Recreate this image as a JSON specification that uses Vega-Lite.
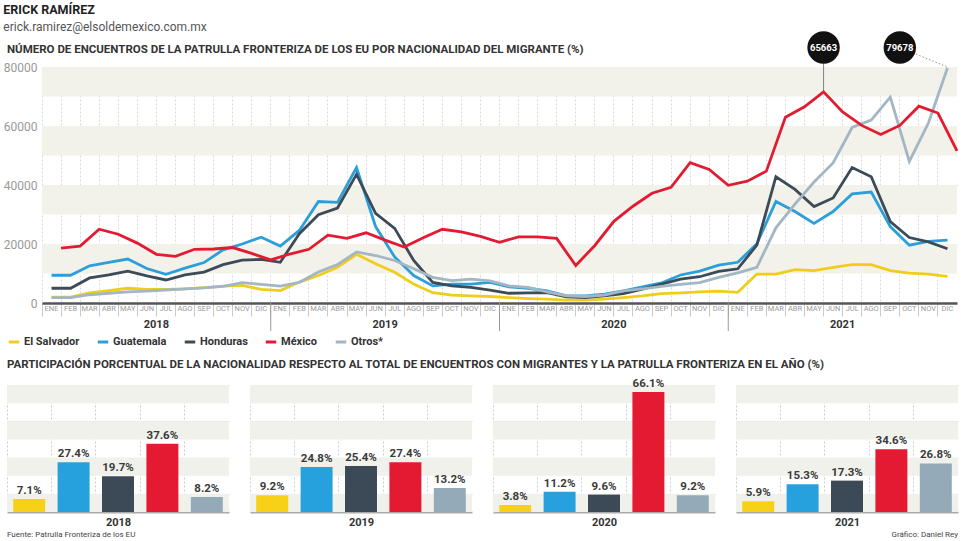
{
  "$schema": "https://vega.github.io/schema/vega-lite/v6.json",
  "background": "white",
  "padding": {"left": 3, "top": 4, "right": 2, "bottom": 1},
  "config": {"view": {"stroke": null}, "font": "Roboto", "title": {"color": "#333", "fontWeight": "bold"}},
  "title": {"text": "ERICK RAMÍREZ", "subtitle": "erick.ramirez@elsoldemexico.com.mx", "anchor": "start", "fontSize": 12.5, "color": "#222", "subtitleFontSize": 12, "subtitleColor": "#555", "subtitlePadding": 5, "offset": -1.5},
  "datasets": {
    "lineas": [
      {"mes":"2018-01","pais":"El Salvador","n":2000},{"mes":"2018-02","pais":"El Salvador","n":2000},{"mes":"2018-03","pais":"El Salvador","n":3400},{"mes":"2018-04","pais":"El Salvador","n":4200},{"mes":"2018-05","pais":"El Salvador","n":5000},{"mes":"2018-06","pais":"El Salvador","n":4600},{"mes":"2018-07","pais":"El Salvador","n":4600},{"mes":"2018-08","pais":"El Salvador","n":4800},{"mes":"2018-09","pais":"El Salvador","n":5200},{"mes":"2018-10","pais":"El Salvador","n":5700},{"mes":"2018-11","pais":"El Salvador","n":6000},{"mes":"2018-12","pais":"El Salvador","n":4600},
      {"mes":"2019-01","pais":"El Salvador","n":4200},{"mes":"2019-02","pais":"El Salvador","n":7100},{"mes":"2019-03","pais":"El Salvador","n":9300},{"mes":"2019-04","pais":"El Salvador","n":12100},{"mes":"2019-05","pais":"El Salvador","n":16500},{"mes":"2019-06","pais":"El Salvador","n":13300},{"mes":"2019-07","pais":"El Salvador","n":10400},{"mes":"2019-08","pais":"El Salvador","n":6400},{"mes":"2019-09","pais":"El Salvador","n":3500},{"mes":"2019-10","pais":"El Salvador","n":2700},{"mes":"2019-11","pais":"El Salvador","n":2400},{"mes":"2019-12","pais":"El Salvador","n":2200},
      {"mes":"2020-01","pais":"El Salvador","n":1800},{"mes":"2020-02","pais":"El Salvador","n":1500},{"mes":"2020-03","pais":"El Salvador","n":1300},{"mes":"2020-04","pais":"El Salvador","n":1000},{"mes":"2020-05","pais":"El Salvador","n":1000},{"mes":"2020-06","pais":"El Salvador","n":1300},{"mes":"2020-07","pais":"El Salvador","n":1800},{"mes":"2020-08","pais":"El Salvador","n":2400},{"mes":"2020-09","pais":"El Salvador","n":3200},{"mes":"2020-10","pais":"El Salvador","n":3400},{"mes":"2020-11","pais":"El Salvador","n":3800},{"mes":"2020-12","pais":"El Salvador","n":4000},
      {"mes":"2021-01","pais":"El Salvador","n":3600},{"mes":"2021-02","pais":"El Salvador","n":9800},{"mes":"2021-03","pais":"El Salvador","n":9800},{"mes":"2021-04","pais":"El Salvador","n":11300},{"mes":"2021-05","pais":"El Salvador","n":11000},{"mes":"2021-06","pais":"El Salvador","n":12100},{"mes":"2021-07","pais":"El Salvador","n":13000},{"mes":"2021-08","pais":"El Salvador","n":13000},{"mes":"2021-09","pais":"El Salvador","n":11000},{"mes":"2021-10","pais":"El Salvador","n":10100},{"mes":"2021-11","pais":"El Salvador","n":9800},{"mes":"2021-12","pais":"El Salvador","n":9000},

      {"mes":"2018-01","pais":"Guatemala","n":9400},{"mes":"2018-02","pais":"Guatemala","n":9400},{"mes":"2018-03","pais":"Guatemala","n":12600},{"mes":"2018-04","pais":"Guatemala","n":13800},{"mes":"2018-05","pais":"Guatemala","n":14900},{"mes":"2018-06","pais":"Guatemala","n":11700},{"mes":"2018-07","pais":"Guatemala","n":9700},{"mes":"2018-08","pais":"Guatemala","n":11800},{"mes":"2018-09","pais":"Guatemala","n":13700},{"mes":"2018-10","pais":"Guatemala","n":18000},{"mes":"2018-11","pais":"Guatemala","n":20000},{"mes":"2018-12","pais":"Guatemala","n":22300},
      {"mes":"2019-01","pais":"Guatemala","n":19300},{"mes":"2019-02","pais":"Guatemala","n":24600},{"mes":"2019-03","pais":"Guatemala","n":34400},{"mes":"2019-04","pais":"Guatemala","n":34100},{"mes":"2019-05","pais":"Guatemala","n":45900},{"mes":"2019-06","pais":"Guatemala","n":25900},{"mes":"2019-07","pais":"Guatemala","n":15600},{"mes":"2019-08","pais":"Guatemala","n":9300},{"mes":"2019-09","pais":"Guatemala","n":5800},{"mes":"2019-10","pais":"Guatemala","n":6400},{"mes":"2019-11","pais":"Guatemala","n":6400},{"mes":"2019-12","pais":"Guatemala","n":7000},
      {"mes":"2020-01","pais":"Guatemala","n":5500},{"mes":"2020-02","pais":"Guatemala","n":5000},{"mes":"2020-03","pais":"Guatemala","n":4100},{"mes":"2020-04","pais":"Guatemala","n":2400},{"mes":"2020-05","pais":"Guatemala","n":2400},{"mes":"2020-06","pais":"Guatemala","n":3000},{"mes":"2020-07","pais":"Guatemala","n":4100},{"mes":"2020-08","pais":"Guatemala","n":5500},{"mes":"2020-09","pais":"Guatemala","n":6800},{"mes":"2020-10","pais":"Guatemala","n":9500},{"mes":"2020-11","pais":"Guatemala","n":10800},{"mes":"2020-12","pais":"Guatemala","n":12800},
      {"mes":"2021-01","pais":"Guatemala","n":13800},{"mes":"2021-02","pais":"Guatemala","n":20100},{"mes":"2021-03","pais":"Guatemala","n":34400},{"mes":"2021-04","pais":"Guatemala","n":31000},{"mes":"2021-05","pais":"Guatemala","n":27000},{"mes":"2021-06","pais":"Guatemala","n":31000},{"mes":"2021-07","pais":"Guatemala","n":37000},{"mes":"2021-08","pais":"Guatemala","n":37600},{"mes":"2021-09","pais":"Guatemala","n":25900},{"mes":"2021-10","pais":"Guatemala","n":19600},{"mes":"2021-11","pais":"Guatemala","n":20900},{"mes":"2021-12","pais":"Guatemala","n":21300},

      {"mes":"2018-01","pais":"Honduras","n":5000},{"mes":"2018-02","pais":"Honduras","n":5000},{"mes":"2018-03","pais":"Honduras","n":8500},{"mes":"2018-04","pais":"Honduras","n":9500},{"mes":"2018-05","pais":"Honduras","n":10800},{"mes":"2018-06","pais":"Honduras","n":9200},{"mes":"2018-07","pais":"Honduras","n":7800},{"mes":"2018-08","pais":"Honduras","n":9500},{"mes":"2018-09","pais":"Honduras","n":10500},{"mes":"2018-10","pais":"Honduras","n":13000},{"mes":"2018-11","pais":"Honduras","n":14500},{"mes":"2018-12","pais":"Honduras","n":14800},
      {"mes":"2019-01","pais":"Honduras","n":13800},{"mes":"2019-02","pais":"Honduras","n":23500},{"mes":"2019-03","pais":"Honduras","n":29900},{"mes":"2019-04","pais":"Honduras","n":32200},{"mes":"2019-05","pais":"Honduras","n":43600},{"mes":"2019-06","pais":"Honduras","n":30400},{"mes":"2019-07","pais":"Honduras","n":25300},{"mes":"2019-08","pais":"Honduras","n":14400},{"mes":"2019-09","pais":"Honduras","n":7000},{"mes":"2019-10","pais":"Honduras","n":5800},{"mes":"2019-11","pais":"Honduras","n":5300},{"mes":"2019-12","pais":"Honduras","n":4400},
      {"mes":"2020-01","pais":"Honduras","n":3300},{"mes":"2020-02","pais":"Honduras","n":3400},{"mes":"2020-03","pais":"Honduras","n":3500},{"mes":"2020-04","pais":"Honduras","n":2100},{"mes":"2020-05","pais":"Honduras","n":1800},{"mes":"2020-06","pais":"Honduras","n":2400},{"mes":"2020-07","pais":"Honduras","n":3200},{"mes":"2020-08","pais":"Honduras","n":4700},{"mes":"2020-09","pais":"Honduras","n":6400},{"mes":"2020-10","pais":"Honduras","n":8100},{"mes":"2020-11","pais":"Honduras","n":8900},{"mes":"2020-12","pais":"Honduras","n":10700},
      {"mes":"2021-01","pais":"Honduras","n":11600},{"mes":"2021-02","pais":"Honduras","n":19600},{"mes":"2021-03","pais":"Honduras","n":42800},{"mes":"2021-04","pais":"Honduras","n":38500},{"mes":"2021-05","pais":"Honduras","n":32700},{"mes":"2021-06","pais":"Honduras","n":35600},{"mes":"2021-07","pais":"Honduras","n":45900},{"mes":"2021-08","pais":"Honduras","n":42800},{"mes":"2021-09","pais":"Honduras","n":27600},{"mes":"2021-10","pais":"Honduras","n":22200},{"mes":"2021-11","pais":"Honduras","n":20700},{"mes":"2021-12","pais":"Honduras","n":18400},

      {"mes":"2018-01","pais":"México","n":18600},{"mes":"2018-02","pais":"México","n":19300},{"mes":"2018-03","pais":"México","n":25000},{"mes":"2018-04","pais":"México","n":23300},{"mes":"2018-05","pais":"México","n":20300},{"mes":"2018-06","pais":"México","n":16500},{"mes":"2018-07","pais":"México","n":15800},{"mes":"2018-08","pais":"México","n":18200},{"mes":"2018-09","pais":"México","n":18300},{"mes":"2018-10","pais":"México","n":18800},{"mes":"2018-11","pais":"México","n":16800},{"mes":"2018-12","pais":"México","n":14600},
      {"mes":"2019-01","pais":"México","n":16600},{"mes":"2019-02","pais":"México","n":18200},{"mes":"2019-03","pais":"México","n":23000},{"mes":"2019-04","pais":"México","n":21900},{"mes":"2019-05","pais":"México","n":23800},{"mes":"2019-06","pais":"México","n":21300},{"mes":"2019-07","pais":"México","n":19000},{"mes":"2019-08","pais":"México","n":22100},{"mes":"2019-09","pais":"México","n":25000},{"mes":"2019-10","pais":"México","n":24100},{"mes":"2019-11","pais":"México","n":22600},{"mes":"2019-12","pais":"México","n":20600},
      {"mes":"2020-01","pais":"México","n":22400},{"mes":"2020-02","pais":"México","n":22400},{"mes":"2020-03","pais":"México","n":21900},{"mes":"2020-04","pais":"México","n":12700},{"mes":"2020-05","pais":"México","n":19500},{"mes":"2020-06","pais":"México","n":27700},{"mes":"2020-07","pais":"México","n":32800},{"mes":"2020-08","pais":"México","n":37200},{"mes":"2020-09","pais":"México","n":39200},{"mes":"2020-10","pais":"México","n":47600},{"mes":"2020-11","pais":"México","n":45300},{"mes":"2020-12","pais":"México","n":39900},
      {"mes":"2021-01","pais":"México","n":41300},{"mes":"2021-02","pais":"México","n":44700},{"mes":"2021-03","pais":"México","n":63000},{"mes":"2021-04","pais":"México","n":66500},{"mes":"2021-05","pais":"México","n":71600},{"mes":"2021-06","pais":"México","n":64800},{"mes":"2021-07","pais":"México","n":60200},{"mes":"2021-08","pais":"México","n":57100},{"mes":"2021-09","pais":"México","n":60200},{"mes":"2021-10","pais":"México","n":66700},{"mes":"2021-11","pais":"México","n":64400},{"mes":"2021-12","pais":"México","n":51600},

      {"mes":"2018-01","pais":"Otros","n":1800},{"mes":"2018-02","pais":"Otros","n":1800},{"mes":"2018-03","pais":"Otros","n":2800},{"mes":"2018-04","pais":"Otros","n":3300},{"mes":"2018-05","pais":"Otros","n":3800},{"mes":"2018-06","pais":"Otros","n":4000},{"mes":"2018-07","pais":"Otros","n":4400},{"mes":"2018-08","pais":"Otros","n":4800},{"mes":"2018-09","pais":"Otros","n":5100},{"mes":"2018-10","pais":"Otros","n":5600},{"mes":"2018-11","pais":"Otros","n":6900},{"mes":"2018-12","pais":"Otros","n":6300},
      {"mes":"2019-01","pais":"Otros","n":5700},{"mes":"2019-02","pais":"Otros","n":7000},{"mes":"2019-03","pais":"Otros","n":10500},{"mes":"2019-04","pais":"Otros","n":13000},{"mes":"2019-05","pais":"Otros","n":17300},{"mes":"2019-06","pais":"Otros","n":16100},{"mes":"2019-07","pais":"Otros","n":14400},{"mes":"2019-08","pais":"Otros","n":11600},{"mes":"2019-09","pais":"Otros","n":8700},{"mes":"2019-10","pais":"Otros","n":7600},{"mes":"2019-11","pais":"Otros","n":8100},{"mes":"2019-12","pais":"Otros","n":7500},
      {"mes":"2020-01","pais":"Otros","n":5800},{"mes":"2020-02","pais":"Otros","n":5300},{"mes":"2020-03","pais":"Otros","n":3800},{"mes":"2020-04","pais":"Otros","n":2400},{"mes":"2020-05","pais":"Otros","n":2200},{"mes":"2020-06","pais":"Otros","n":2700},{"mes":"2020-07","pais":"Otros","n":4100},{"mes":"2020-08","pais":"Otros","n":4800},{"mes":"2020-09","pais":"Otros","n":5600},{"mes":"2020-10","pais":"Otros","n":6300},{"mes":"2020-11","pais":"Otros","n":6900},{"mes":"2020-12","pais":"Otros","n":8700},
      {"mes":"2021-01","pais":"Otros","n":10200},{"mes":"2021-02","pais":"Otros","n":12100},{"mes":"2021-03","pais":"Otros","n":25500},{"mes":"2021-04","pais":"Otros","n":33500},{"mes":"2021-05","pais":"Otros","n":41000},{"mes":"2021-06","pais":"Otros","n":47500},{"mes":"2021-07","pais":"Otros","n":59500},{"mes":"2021-08","pais":"Otros","n":62000},{"mes":"2021-09","pais":"Otros","n":69800},{"mes":"2021-10","pais":"Otros","n":48000},{"mes":"2021-11","pais":"Otros","n":61000},{"mes":"2021-12","pais":"Otros","n":79678}
    ],
    "barras": [
      {"anio":2018,"pais":"El Salvador","pct":0.071},{"anio":2018,"pais":"Guatemala","pct":0.274},{"anio":2018,"pais":"Honduras","pct":0.197},{"anio":2018,"pais":"México","pct":0.376},{"anio":2018,"pais":"Otros","pct":0.082},
      {"anio":2019,"pais":"El Salvador","pct":0.092},{"anio":2019,"pais":"Guatemala","pct":0.248},{"anio":2019,"pais":"Honduras","pct":0.254},{"anio":2019,"pais":"México","pct":0.274},{"anio":2019,"pais":"Otros","pct":0.132},
      {"anio":2020,"pais":"El Salvador","pct":0.038},{"anio":2020,"pais":"Guatemala","pct":0.112},{"anio":2020,"pais":"Honduras","pct":0.096},{"anio":2020,"pais":"México","pct":0.661},{"anio":2020,"pais":"Otros","pct":0.092},
      {"anio":2021,"pais":"El Salvador","pct":0.059},{"anio":2021,"pais":"Guatemala","pct":0.153},{"anio":2021,"pais":"Honduras","pct":0.173},{"anio":2021,"pais":"México","pct":0.346},{"anio":2021,"pais":"Otros","pct":0.268}
    ],
    "franjas": [{"a":0,"b":0.1},{"a":0.2,"b":0.3},{"a":0.4,"b":0.5},{"a":0.6,"b":0.7}]
  },
  "spacing": 10,
  "resolve": {"scale": {"color": "independent"}, "legend": {"color": "independent"}},
  "vconcat": [
    {
      "bounds": "flush",
      "spacing": 0,
      "hconcat": [
        {
          "width": 35, "height": 236,
          "title": {"text": "NÚMERO DE ENCUENTROS DE LA PATRULLA FRONTERIZA DE LOS  EU POR NACIONALIDAD DEL MIGRANTE (%)", "anchor": "start", "frame": "group", "fontSize": 11.5, "offset": 12},
          "data": {"values": [{}]},
          "mark": {"type": "point", "opacity": 0},
          "encoding": {}
        },
        {
          "width": 915, "height": 236,
          "layer": [
            {
              "data": {"values": [{"y0":10000,"y1":20000},{"y0":30000,"y1":40000},{"y0":50000,"y1":60000},{"y0":70000,"y1":80000}]},
              "mark": {"type": "rect", "color": "#f3f2ea"},
              "encoding": {
                "y": {"field": "y0", "type": "quantitative", "title": null, "scale": {"domain": [0, 80000], "nice": false},
                  "axis": {"title": null, "orient": "left", "values": [0,10000,20000,30000,40000,50000,60000,70000,80000], "format": "d", "labelFontSize": 12, "labelColor": "#999", "labelPadding": 5, "labelOverlap": false, "ticks": false, "domain": false, "grid": true, "gridWidth": 1,
                    "gridColor": {"condition": {"test": "datum.value == 40000 || datum.value == 70000", "value": "#b8b8b8"}, "value": "#dedede"}}},
                "y2": {"field": "y1"}
              }
            },
            {
              "data": {"name": "lineas"},
              "transform": [{"filter": "datum.pais !== 'México'"}],
              "mark": {"type": "line", "strokeWidth": 2.8},
              "encoding": {
                "x": {"field": "mes", "type": "ordinal", "title": null, "scale": {"type": "band", "paddingInner": 0, "paddingOuter": 0},
                  "axis": {"orient": "bottom", "title": null, "bandPosition": 0,
                    "labelExpr": "slice('ENEFEBMARABRMAYJUNJULAGOSEPOCTNOVDIC', toNumber(slice(datum.value,5))*3-3, toNumber(slice(datum.value,5))*3)",
                    "labelAngle": 0, "labelFontSize": 7.5, "labelColor": "#9a9a9a", "labelPadding": -12, "labelOverlap": false,
                    "ticks": true, "tickSize": 13, "tickColor": "#bbb", "tickWidth": 0.8,
                    "grid": true, "gridColor": "#cfcfcf", "gridDash": [2, 2], "gridWidth": 0.8,
                    "domain": true, "domainColor": "#555", "domainWidth": 2.5}},
                "y": {"field": "n", "type": "quantitative", "title": null},
                "color": {"field": "pais", "type": "nominal",
                  "scale": {"domain": ["El Salvador", "Guatemala", "Honduras", "México", "Otros"], "range": ["#f0cd1a", "#2b9fd9", "#3c4b57", "#e31b30", "#a3b6c3"]},
                  "legend": {"orient": "bottom", "direction": "horizontal", "title": null, "symbolType": "stroke", "symbolStrokeWidth": 3, "symbolSize": 110,
                    "labelFontSize": 11, "labelFontWeight": "bold", "labelColor": "#333", "columnPadding": 11, "labelOffset": 3, "offset": 3, "padding": 0,
                    "labelExpr": "datum.label == 'Otros' ? 'Otros*' : datum.label"}}
              }
            },
            {
              "data": {"name": "lineas"},
              "transform": [{"filter": "datum.pais === 'México'"}],
              "mark": {"type": "line", "strokeWidth": 2.8},
              "encoding": {
                "x": {"field": "mes", "type": "ordinal", "title": null, "bandPosition": 1},
                "y": {"field": "n", "type": "quantitative", "title": null},
                "color": {"field": "pais", "type": "nominal"}
              }
            },
            {
              "data": {"values": [{"mes": "2019-01"}, {"mes": "2020-01"}, {"mes": "2021-01"}]},
              "mark": {"type": "rule", "color": "#999", "strokeWidth": 1},
              "encoding": {
                "x": {"field": "mes", "type": "ordinal", "title": null, "bandPosition": 0},
                "y": {"datum": 0, "type": "quantitative"},
                "y2": {"datum": -9500}
              }
            },
            {
              "data": {"values": [{"mes": "2018-07", "anio": "2018"}, {"mes": "2019-07", "anio": "2019"}, {"mes": "2020-07", "anio": "2020"}, {"mes": "2021-07", "anio": "2021"}]},
              "mark": {"type": "text", "baseline": "top", "fontSize": 11, "fontWeight": "bold", "color": "#333"},
              "encoding": {
                "x": {"field": "mes", "type": "ordinal", "title": null, "bandPosition": 0},
                "y": {"datum": -5500, "type": "quantitative"},
                "text": {"field": "anio"}
              }
            },
            {
              "data": {"values": [{"mes": "2021-05"}]},
              "mark": {"type": "rule", "color": "#666", "strokeWidth": 0.8},
              "encoding": {
                "x": {"field": "mes", "type": "ordinal", "title": null, "bandPosition": 1},
                "y": {"datum": 84500, "type": "quantitative"},
                "y2": {"datum": 71600}
              }
            },
            {
              "data": {"values": [{"mes": "2021-09", "fin": "2021-12"}]},
              "mark": {"type": "rule", "color": "#777", "strokeWidth": 0.8, "strokeDash": [1.5, 2]},
              "encoding": {
                "x": {"field": "mes", "type": "ordinal", "title": null, "bandPosition": 1},
                "x2": {"field": "fin"},
                "y": {"datum": 86600, "type": "quantitative"},
                "y2": {"datum": 80000}
              }
            },
            {
              "data": {"values": [{"mes": "2021-05", "valor": "65663"}, {"mes": "2021-09", "valor": "79678"}]},
              "mark": {"type": "circle", "size": 1050, "color": "#111", "opacity": 1},
              "encoding": {
                "x": {"field": "mes", "type": "ordinal", "title": null, "bandPosition": 1},
                "y": {"datum": 86600, "type": "quantitative"}
              }
            },
            {
              "data": {"values": [{"mes": "2021-05", "valor": "65663"}, {"mes": "2021-09", "valor": "79678"}]},
              "mark": {"type": "text", "color": "white", "fontWeight": "bold", "fontSize": 9.5},
              "encoding": {
                "x": {"field": "mes", "type": "ordinal", "title": null, "bandPosition": 1},
                "y": {"datum": 86600, "type": "quantitative"},
                "text": {"field": "valor"}
              }
            }
          ]
        }
      ]
    },
    {
      "title": {"text": "PARTICIPACIÓN PORCENTUAL DE LA NACIONALIDAD RESPECTO AL TOTAL DE ENCUENTROS CON MIGRANTES Y LA PATRULLA FRONTERIZA EN EL AÑO (%)", "anchor": "start", "fontSize": 11.5, "offset": 8},
      "spacing": 21,
      "hconcat": [
        {
          "width": 222, "height": 127,
          "title": {"text": "Fuente: Patrulla Fronteriza de los EU", "orient": "bottom", "anchor": "start", "frame": "group", "fontSize": 8, "fontWeight": "normal", "color": "#444", "offset": 4},
          "layer": [
            {"data": {"name": "franjas"}, "mark": {"type": "rect", "color": "#f1f1ec"},
             "encoding": {"y": {"field": "a", "type": "quantitative", "title": null, "scale": {"domain": [0, 0.7], "nice": false}, "axis": {"title": null, "labels": false, "ticks": false, "domain": false, "grid": true, "gridColor": "#d9d9d9", "values": [0.1,0.2,0.3,0.4,0.5,0.6,0.7]}}, "y2": {"field": "b"}}},
            {"data": {"name": "barras"}, "transform": [{"filter": "datum.anio == 2018"}],
             "layer": [
               {"mark": {"type": "bar", "width": {"band": 0.72}},
                "encoding": {"color": {"field": "pais", "type": "nominal", "scale": {"domain": ["El Salvador", "Guatemala", "Honduras", "México", "Otros"], "range": ["#f7d117", "#27a1de", "#3b4a56", "#e41932", "#94aab8"]}, "legend": null}}},
               {"mark": {"type": "text", "baseline": "bottom", "dy": -3, "fontSize": 11.5, "fontWeight": "bold", "color": "#3a3a3a"},
                "encoding": {"text": {"field": "pct", "type": "quantitative", "format": ".1%"}}}
             ],
             "encoding": {
               "x": {"field": "pais", "type": "nominal", "sort": ["El Salvador", "Guatemala", "Honduras", "México", "Otros"], "scale": {"type": "band", "paddingInner": 0, "paddingOuter": 0},
                 "axis": {"title": "2018", "titleFontSize": 11, "titleFontWeight": "bold", "titleColor": "#333", "titlePadding": 4, "labels": false, "ticks": false, "domain": true, "domainColor": "#aaa", "domainWidth": 2, "grid": true, "bandPosition": 0, "gridColor": "#cccccc", "gridDash": [2, 2]}},
               "y": {"field": "pct", "type": "quantitative", "title": null}
             }}
          ]
        },
        {
          "width": 222, "height": 127,
          "layer": [
            {"data": {"name": "franjas"}, "mark": {"type": "rect", "color": "#f1f1ec"},
             "encoding": {"y": {"field": "a", "type": "quantitative", "title": null, "scale": {"domain": [0, 0.7], "nice": false}, "axis": {"title": null, "labels": false, "ticks": false, "domain": false, "grid": true, "gridColor": "#d9d9d9", "values": [0.1,0.2,0.3,0.4,0.5,0.6,0.7]}}, "y2": {"field": "b"}}},
            {"data": {"name": "barras"}, "transform": [{"filter": "datum.anio == 2019"}],
             "layer": [
               {"mark": {"type": "bar", "width": {"band": 0.72}},
                "encoding": {"color": {"field": "pais", "type": "nominal", "scale": {"domain": ["El Salvador", "Guatemala", "Honduras", "México", "Otros"], "range": ["#f7d117", "#27a1de", "#3b4a56", "#e41932", "#94aab8"]}, "legend": null}}},
               {"mark": {"type": "text", "baseline": "bottom", "dy": -3, "fontSize": 11.5, "fontWeight": "bold", "color": "#3a3a3a"},
                "encoding": {"text": {"field": "pct", "type": "quantitative", "format": ".1%"}}}
             ],
             "encoding": {
               "x": {"field": "pais", "type": "nominal", "sort": ["El Salvador", "Guatemala", "Honduras", "México", "Otros"], "scale": {"type": "band", "paddingInner": 0, "paddingOuter": 0},
                 "axis": {"title": "2019", "titleFontSize": 11, "titleFontWeight": "bold", "titleColor": "#333", "titlePadding": 4, "labels": false, "ticks": false, "domain": true, "domainColor": "#aaa", "domainWidth": 2, "grid": true, "bandPosition": 0, "gridColor": "#cccccc", "gridDash": [2, 2]}},
               "y": {"field": "pct", "type": "quantitative", "title": null}
             }}
          ]
        },
        {
          "width": 222, "height": 127,
          "layer": [
            {"data": {"name": "franjas"}, "mark": {"type": "rect", "color": "#f1f1ec"},
             "encoding": {"y": {"field": "a", "type": "quantitative", "title": null, "scale": {"domain": [0, 0.7], "nice": false}, "axis": {"title": null, "labels": false, "ticks": false, "domain": false, "grid": true, "gridColor": "#d9d9d9", "values": [0.1,0.2,0.3,0.4,0.5,0.6,0.7]}}, "y2": {"field": "b"}}},
            {"data": {"name": "barras"}, "transform": [{"filter": "datum.anio == 2020"}],
             "layer": [
               {"mark": {"type": "bar", "width": {"band": 0.72}},
                "encoding": {"color": {"field": "pais", "type": "nominal", "scale": {"domain": ["El Salvador", "Guatemala", "Honduras", "México", "Otros"], "range": ["#f7d117", "#27a1de", "#3b4a56", "#e41932", "#94aab8"]}, "legend": null}}},
               {"mark": {"type": "text", "baseline": "bottom", "dy": -3, "fontSize": 11.5, "fontWeight": "bold", "color": "#3a3a3a"},
                "encoding": {"text": {"field": "pct", "type": "quantitative", "format": ".1%"}}}
             ],
             "encoding": {
               "x": {"field": "pais", "type": "nominal", "sort": ["El Salvador", "Guatemala", "Honduras", "México", "Otros"], "scale": {"type": "band", "paddingInner": 0, "paddingOuter": 0},
                 "axis": {"title": "2020", "titleFontSize": 11, "titleFontWeight": "bold", "titleColor": "#333", "titlePadding": 4, "labels": false, "ticks": false, "domain": true, "domainColor": "#aaa", "domainWidth": 2, "grid": true, "bandPosition": 0, "gridColor": "#cccccc", "gridDash": [2, 2]}},
               "y": {"field": "pct", "type": "quantitative", "title": null}
             }}
          ]
        },
        {
          "width": 222, "height": 127,
          "title": {"text": "Gráfico: Daniel Rey", "orient": "bottom", "anchor": "end", "frame": "group", "fontSize": 8, "fontWeight": "normal", "color": "#444", "offset": 4},
          "layer": [
            {"data": {"name": "franjas"}, "mark": {"type": "rect", "color": "#f1f1ec"},
             "encoding": {"y": {"field": "a", "type": "quantitative", "title": null, "scale": {"domain": [0, 0.7], "nice": false}, "axis": {"title": null, "labels": false, "ticks": false, "domain": false, "grid": true, "gridColor": "#d9d9d9", "values": [0.1,0.2,0.3,0.4,0.5,0.6,0.7]}}, "y2": {"field": "b"}}},
            {"data": {"name": "barras"}, "transform": [{"filter": "datum.anio == 2021"}],
             "layer": [
               {"mark": {"type": "bar", "width": {"band": 0.72}},
                "encoding": {"color": {"field": "pais", "type": "nominal", "scale": {"domain": ["El Salvador", "Guatemala", "Honduras", "México", "Otros"], "range": ["#f7d117", "#27a1de", "#3b4a56", "#e41932", "#94aab8"]}, "legend": null}}},
               {"mark": {"type": "text", "baseline": "bottom", "dy": -3, "fontSize": 11.5, "fontWeight": "bold", "color": "#3a3a3a"},
                "encoding": {"text": {"field": "pct", "type": "quantitative", "format": ".1%"}}}
             ],
             "encoding": {
               "x": {"field": "pais", "type": "nominal", "sort": ["El Salvador", "Guatemala", "Honduras", "México", "Otros"], "scale": {"type": "band", "paddingInner": 0, "paddingOuter": 0},
                 "axis": {"title": "2021", "titleFontSize": 11, "titleFontWeight": "bold", "titleColor": "#333", "titlePadding": 4, "labels": false, "ticks": false, "domain": true, "domainColor": "#aaa", "domainWidth": 2, "grid": true, "bandPosition": 0, "gridColor": "#cccccc", "gridDash": [2, 2]}},
               "y": {"field": "pct", "type": "quantitative", "title": null}
             }}
          ]
        }
      ]
    }
  ]
}
